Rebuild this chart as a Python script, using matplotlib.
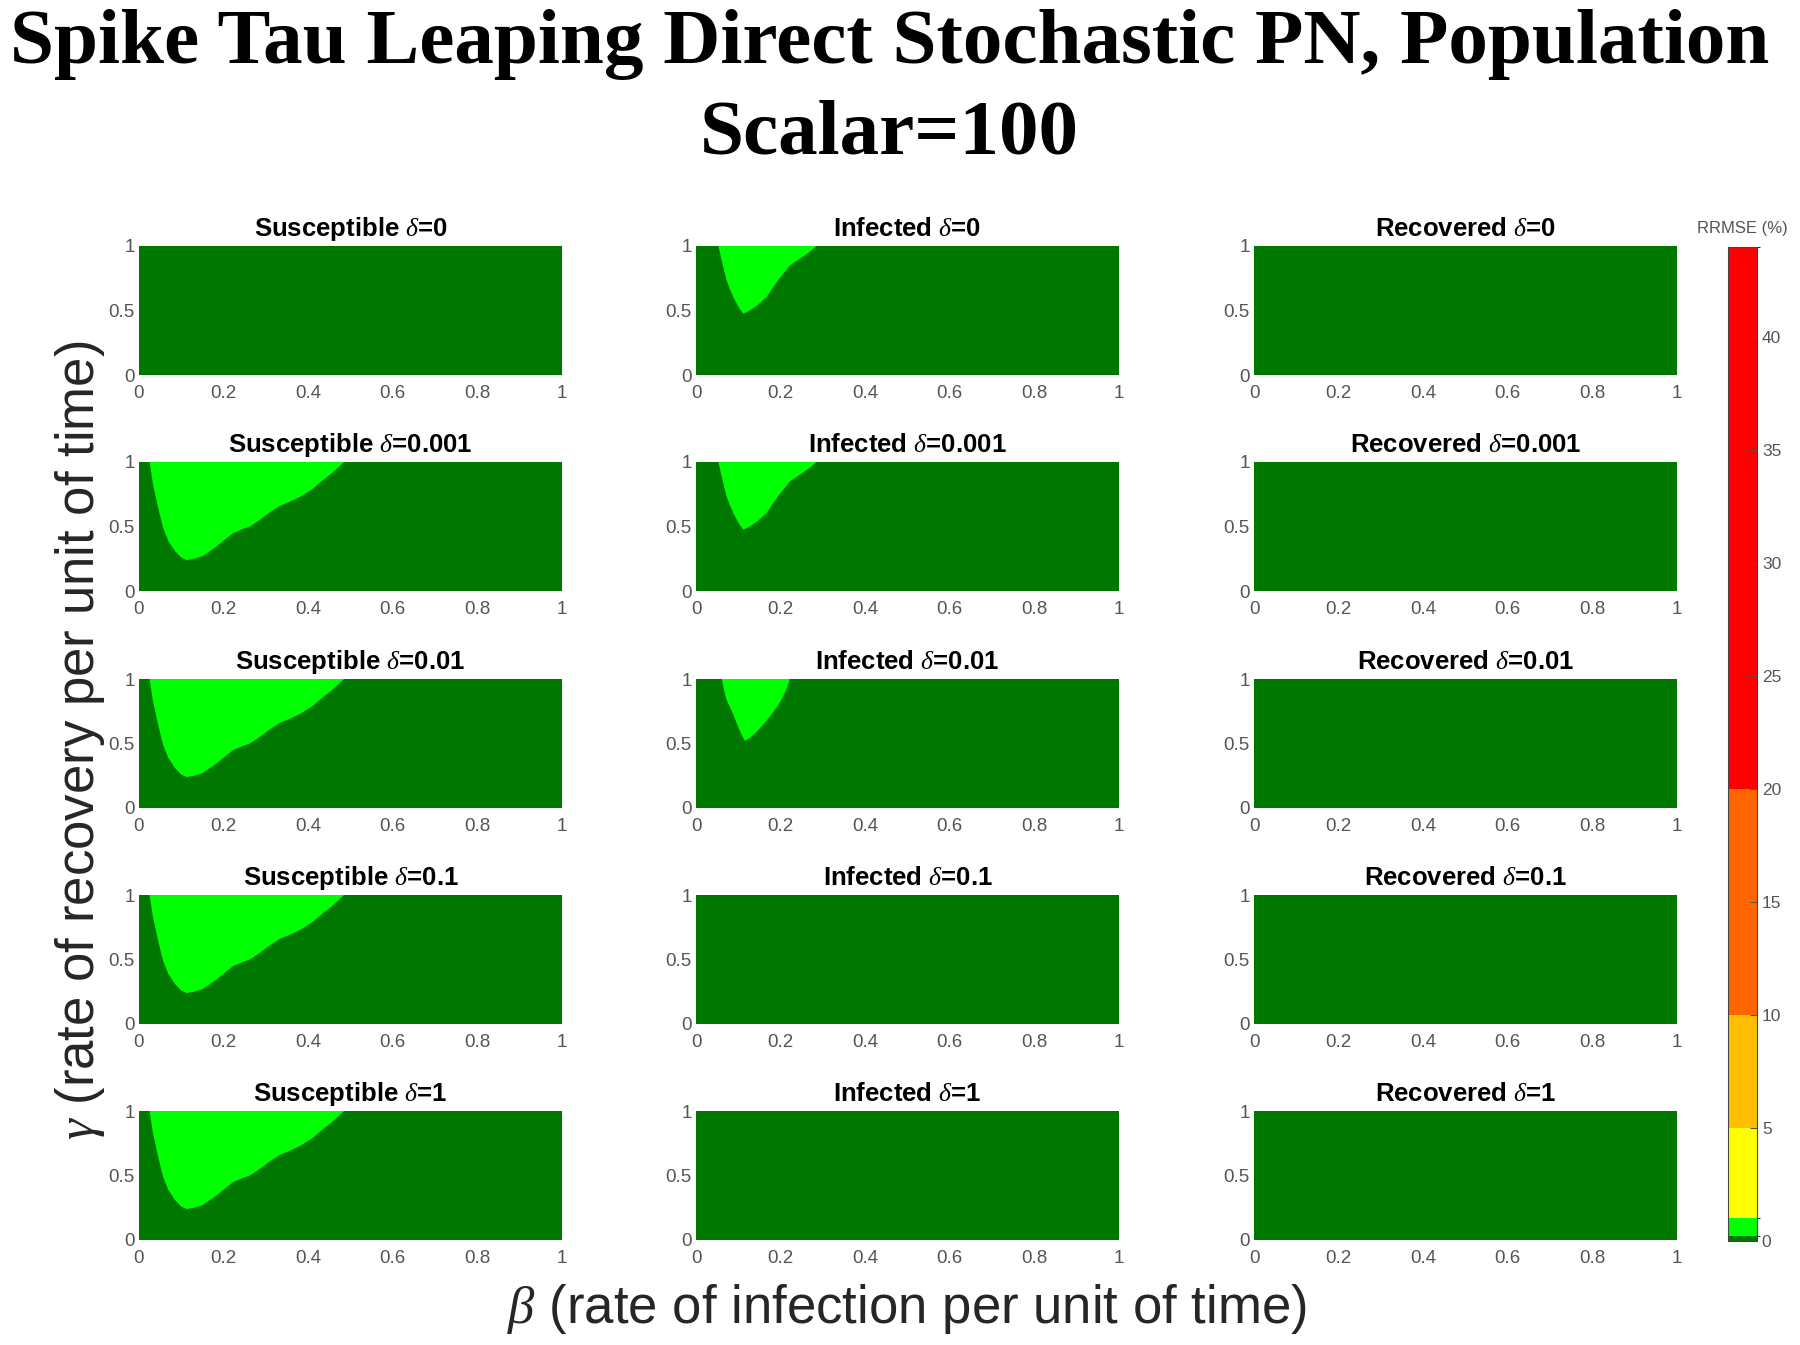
import numpy as np
import matplotlib
matplotlib.use('Agg')
import matplotlib.pyplot as plt
from matplotlib.colors import ListedColormap, BoundaryNorm
from matplotlib.colorbar import ColorbarBase

plt.rcParams['font.family'] = ['Liberation Sans', 'DejaVu Sans']
plt.rcParams['mathtext.fontset'] = 'custom'
plt.rcParams['mathtext.it'] = 'Liberation Serif:italic'
plt.rcParams['mathtext.rm'] = 'Liberation Serif'

# ---------------- data ----------------
TITLE_LINE1 = "Spike Tau Leaping Direct Stochastic PN, Population"
TITLE_LINE2 = "Scalar=100"
COMPARTMENTS = ["Susceptible", "Infected", "Recovered"]
DELTAS = ["0", "0.001", "0.01", "0.1", "1"]
X_TICKS = [0, 0.2, 0.4, 0.6, 0.8, 1]
X_TICKLABELS = ["0", "0.2", "0.4", "0.6", "0.8", "1"]
Y_TICKS = [0, 0.5, 1]
Y_TICKLABELS = ["0", "0.5", "1"]

RRMSE_LEVELS = [0, 0.2, 1, 5, 10, 20, 44]
RRMSE_COLORS = ["#007800", "#00ff00", "#ffff00", "#ffbf00", "#ff6600", "#ff0000"]
CBAR_TICKS = [0, 5, 10, 15, 20, 25, 30, 35, 40]

BACKGROUND_RRMSE = 0.1   # dark-green band everywhere
REGION_RRMSE = 0.6       # light-green band inside the outlined region

# outline of the higher-error region, Susceptible panels
SUS_BETA = [0.025, 0.033, 0.045, 0.057, 0.069, 0.085, 0.100, 0.112,
            0.130, 0.150, 0.168, 0.185, 0.200, 0.223, 0.245, 0.262, 0.285, 0.305,
            0.333, 0.355, 0.381, 0.410, 0.435, 0.455, 0.485]
SUS_GAMMA = [1.00, 0.83, 0.65, 0.49, 0.39, 0.31, 0.26, 0.24,
             0.25, 0.27, 0.31, 0.35, 0.39, 0.45, 0.48, 0.50, 0.55, 0.60,
             0.66, 0.69, 0.73, 0.79, 0.86, 0.91, 1.00]

# Infected, delta = 0 and 0.001
INF_A_BETA = [0.053, 0.062, 0.072, 0.082, 0.092, 0.102, 0.112, 0.127, 0.145, 0.167,
              0.180, 0.194, 0.210, 0.222, 0.245, 0.269, 0.285]
INF_A_GAMMA = [1.00, 0.87, 0.735, 0.65, 0.58, 0.52, 0.475, 0.50, 0.54, 0.605,
               0.67, 0.735, 0.80, 0.85, 0.90, 0.955, 1.00]

# Infected, delta = 0.01
INF_B_BETA = [0.061, 0.066, 0.072, 0.085, 0.096, 0.106, 0.116, 0.130, 0.143, 0.160,
              0.175, 0.195, 0.206, 0.215, 0.222]
INF_B_GAMMA = [1.00, 0.92, 0.84, 0.75, 0.66, 0.58, 0.52, 0.55, 0.59, 0.65,
               0.71, 0.80, 0.865, 0.93, 1.00]

# which panels (row, col) contain a region
PANEL_REGIONS = {
    (1, 0): (SUS_BETA, SUS_GAMMA),
    (2, 0): (SUS_BETA, SUS_GAMMA),
    (3, 0): (SUS_BETA, SUS_GAMMA),
    (4, 0): (SUS_BETA, SUS_GAMMA),
    (0, 1): (INF_A_BETA, INF_A_GAMMA),
    (1, 1): (INF_A_BETA, INF_A_GAMMA),
    (2, 1): (INF_B_BETA, INF_B_GAMMA),
}

# ---------------- figure ----------------
W, H = 1800, 1345
fig = plt.figure(figsize=(W / 100, H / 100), dpi=100)

cmap = ListedColormap(RRMSE_COLORS)
norm = BoundaryNorm(RRMSE_LEVELS, cmap.N)

col_left_px = [139, 696, 1254]
row_top_px = [246, 462, 679, 895, 1111]
ax_w_px, ax_h_px = 423, 129

tick_color = "#555555"
for r, d in enumerate(DELTAS):
    for c, comp in enumerate(COMPARTMENTS):
        l = col_left_px[c] / W
        b = 1 - (row_top_px[r] + ax_h_px) / H
        ax = fig.add_axes([l, b, ax_w_px / W, ax_h_px / H])
        ax.fill_between([0, 1], 0, 1, color=cmap(norm(BACKGROUND_RRMSE)), lw=0)
        if (r, c) in PANEL_REGIONS:
            bx, gy = PANEL_REGIONS[(r, c)]
            ax.fill(bx, gy, color=cmap(norm(REGION_RRMSE)), lw=0)
        ax.set_xlim(0, 1)
        ax.set_ylim(0, 1)
        ax.set_xticks(X_TICKS)
        ax.set_xticklabels(X_TICKLABELS)
        ax.set_yticks(Y_TICKS)
        ax.set_yticklabels(Y_TICKLABELS)
        ax.tick_params(length=0, labelsize=13.5, colors=tick_color)
        ax.tick_params(axis='x', pad=7)
        ax.tick_params(axis='y', pad=3)
        for s in ax.spines.values():
            s.set_visible(False)
        ax.set_title(f"{comp} $\\delta$=" + d, fontsize=18.5, fontweight='bold', pad=7)

# colorbar
cax = fig.add_axes([1728 / W, 1 - 1241 / H, 29 / W, 994 / H])
cb = ColorbarBase(cax, cmap=cmap, norm=norm, boundaries=RRMSE_LEVELS,
                  spacing='proportional', ticks=CBAR_TICKS, orientation='vertical')
cb.ax.tick_params(labelsize=12.5, colors=tick_color, direction='in', length=5, width=0.8)
for t in cb.ax.get_yticklines():
    t.set_color('#333333')
cb.outline.set_linewidth(0.8)
cb.outline.set_edgecolor('#444444')
fig.text(1742 / W, 1 - 228 / H, "RRMSE (%)", ha='center', va='center', fontsize=12, color=tick_color)

# titles and shared labels
fig.text(0.494, 1 - 63 / H, TITLE_LINE1, ha='center', va='baseline', fontsize=57,
         fontweight='bold', family='Liberation Serif')
fig.text(0.494, 1 - 153 / H, TITLE_LINE2, ha='center', va='baseline', fontsize=57,
         fontweight='bold', family='Liberation Serif')
fig.text(80 / W, 1 - 740 / H, "$\\gamma$ (rate of recovery per unit of time)", rotation=90,
         ha='center', va='center', fontsize=38, color='#262626')
fig.text(907 / W, 1 - 1309 / H, "$\\beta$ (rate of infection per unit of time)",
         ha='center', va='center', fontsize=38, color='#262626')

fig.savefig("out.png", dpi=100)
